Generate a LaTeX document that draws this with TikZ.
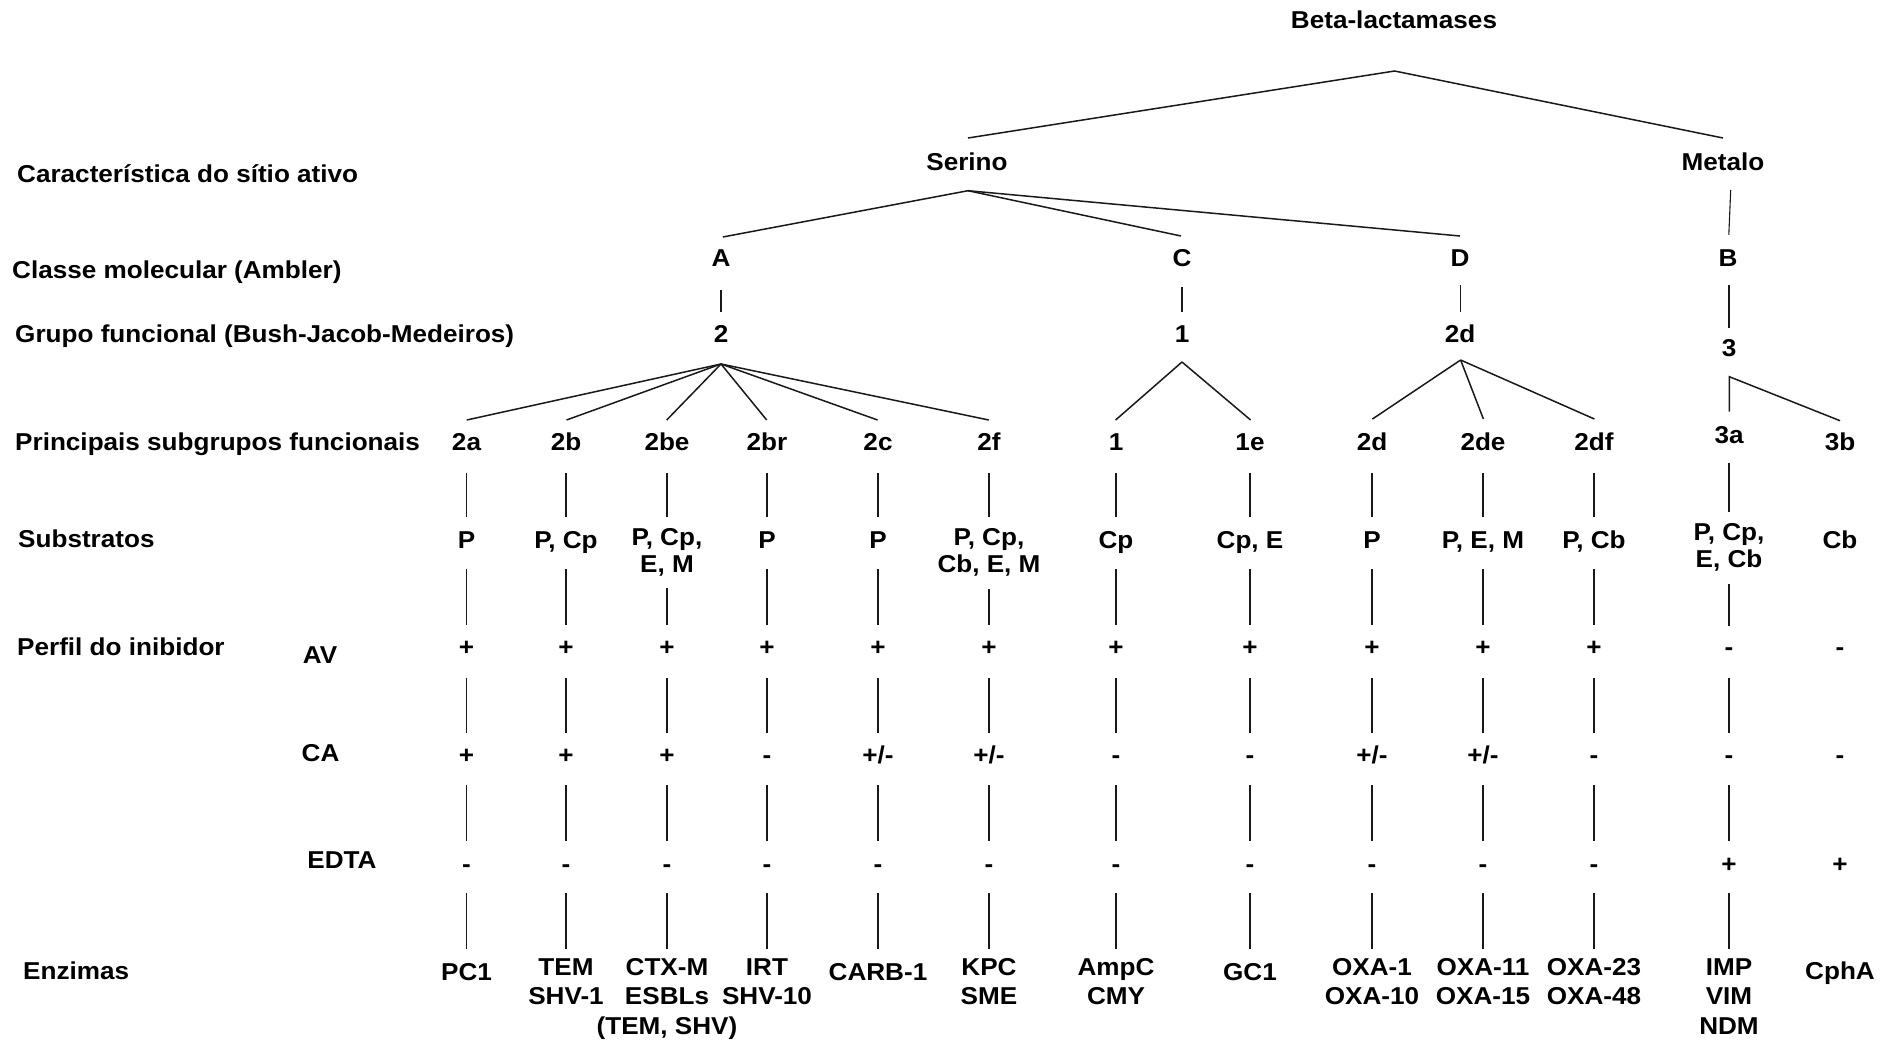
\documentclass[tikz,border=0pt]{standalone}
\usepackage{fontspec}
\setmainfont[FakeStretch=1.07]{Liberation Sans}
\newcommand\ml[1]{\begin{tabular}[t]{@{}c@{}}#1\end{tabular}}
\begin{document}
\begin{tikzpicture}[x=1pt,y=-1pt,
  every node/.style={font=\fontsize{24.4}{27}\selectfont\bfseries, inner sep=0pt, anchor=base},
  lab/.style={anchor=base west},
  enz/.style={font=\fontsize{24.4}{29.5}\selectfont\bfseries},
  br/.style={line width=1.5pt, draw=black!90},
  vl/.style={line width=1.1pt, draw=black!90}]
\useasboundingbox (0,0) rectangle (1894,1042);

% ---- row labels
\node[lab] (l1) at (17,182) {Característica do sítio ativo};
\node[lab] (l2) at (12,278.5) {Classe molecular (Ambler)};
\node[lab] (l3) at (15,342) {Grupo funcional (Bush-Jacob-Medeiros)};
\node[lab] (l4) at (15,450) {Principais subgrupos funcionais};
\node[lab] (l5) at (18,547.5) {Substratos};
\node[lab] (l6) at (17,655) {Perfil do inibidor};
\node (lav) at (320,663) {AV};
\node (lca) at (320.6,761) {CA};
\node (ledta) at (342,868) {EDTA};
\node[lab] (l7) at (23,979) {Enzimas};

% ---- upper tree
\node (root) at (1394,28) {Beta-lactamases};
\node (serino) at (967,170.5) {Serino};
\node (metalo) at (1723,170.5) {Metalo};
\node (A) at (721,266.5) {A};
\node (C) at (1182,266.5) {C};
\node (D) at (1460,266.5) {D};
\node (B) at (1728,266.5) {B};
\node (n2) at (721,342.5) {2};
\node (n1) at (1182,342.5) {1};
\node (n2d) at (1460,342.5) {2d};
\node (n3) at (1729,356.5) {3};

\coordinate (rootb) at (1394.6,71);
\coordinate (serinot) at (968,138);
\coordinate (metalot) at (1723,138);
\draw[br] (serinot) -- (rootb) -- (metalot);
\coordinate (serinob) at (968,190.7);
\coordinate (At) at (722.8,237);
\coordinate (Ct) at (1181,236);
\coordinate (Dt) at (1460,236);
\draw[br] (serinob) -- (At);
\draw[br] (serinob) -- (Ct);
\draw[br] (serinob) -- (Dt);
\coordinate (metalob) at (1730.7,190);
\coordinate (Bt) at (1728.8,235);
\draw[vl] (metalob) -- (Bt);
\coordinate (Ab) at (721,290);   \coordinate (n2t) at (721,312);
\coordinate (Cb) at (1182,287);  \coordinate (n1t) at (1182,312);
\coordinate (Db) at (1460.5,285); \coordinate (n2dt) at (1460.5,312);
\coordinate (Bb) at (1729,285);  \coordinate (n3t) at (1729,328);
\draw[vl] (Ab) -- (n2t);
\draw[vl] (Cb) -- (n1t);
\draw[vl] (Db) -- (n2dt);
\draw[vl] (Bb) -- (n3t);

% ---- subgroups
\node (g2a) at (466.5,450) {2a};
\node (g2b) at (566,450) {2b};
\node (g2be) at (667,450) {2be};
\node (g2br) at (767,450) {2br};
\node (g2c) at (878,450) {2c};
\node (g2f) at (989,450) {2f};
\node (g1) at (1116,450) {1};
\node (g1e) at (1250,450) {1e};
\node (g2d) at (1372,450) {2d};
\node (g2de) at (1483,450) {2de};
\node (g2df) at (1594,450) {2df};
\node (g3a) at (1729,443.5) {3a};
\node (g3b) at (1840,450) {3b};

% fans
\coordinate (n2b) at (721,364);
\foreach \c/\x in {a/466.7, b/566.5, be/666.7, br/766.7, c/877.6, f/988.8}
  {\coordinate (f\c) at (\x,420); \draw[br] (n2b) -- (f\c);}
\coordinate (n1b) at (1182,362);
\foreach \c/\x in {one/1115.6, oe/1250.6}
  {\coordinate (f\c) at (\x,420); \draw[br] (n1b) -- (f\c);}
\coordinate (n2db) at (1460.6,360);
\foreach \c/\x in {d/1372.4, de/1483.4, df/1594.4}
  {\coordinate (f\c) at (\x,419); \draw[br] (n2db) -- (f\c);}
\coordinate (n3b) at (1729.3,376.7);
\coordinate (fta) at (1729.3,411.7);
\coordinate (ftb) at (1840,420.7);
\draw[br] (fta) -- (n3b) -- (ftb);

% ---- substrates
\node (s2a) at (466.5,548.5) {P};
\node (s2b) at (566,548.5) {P, Cp};
\node (s2be) at (667,545) {\ml{P, Cp,\\E, M}};
\node (s2br) at (767,548.5) {P};
\node (s2c) at (878,548.5) {P};
\node (s2f) at (989,545) {\ml{P, Cp,\\Cb, E, M}};
\node (s1) at (1116,548.5) {Cp};
\node (s1e) at (1250,548.5) {Cp, E};
\node (s2d) at (1372,548.5) {P};
\node (s2de) at (1483,548.5) {P, E, M};
\node (s2df) at (1594,548.5) {P, Cb};
\node (s3a) at (1729,540) {\ml{P, Cp,\\E, Cb}};
\node (s3b) at (1840,548.5) {Cb};

% ---- inhibitor profile
\foreach \c/\x/\av/\ca/\ed in {a/466.5/+/+/-, b/566/+/+/-, be/667/+/+/-, br/767/+/-/-,
   c/878/+/{+/-}/-, f/989/+/{+/-}/-, one/1116/+/-/-, oe/1250/+/-/-, d/1372/+/{+/-}/-,
   de/1483/+/{+/-}/-, df/1594/+/-/-, ta/1729/-/-/+, tb/1840/-/-/+}
{
  \node (av\c) at (\x,655) {\av};
  \node (ca\c) at (\x,763.5) {\ca};
  \node (ed\c) at (\x,872) {\ed};
}

% ---- enzymes
\node[enz] (e2a) at (466.5,980) {PC1};
\node[enz] (e2b) at (566,975) {\ml{TEM\\SHV-1}};
\node[enz] (e2be) at (667,975) {\ml{CTX-M\\ESBLs\\(TEM, SHV)}};
\node[enz] (e2br) at (767,975) {\ml{IRT\\SHV-10}};
\node[enz] (e2c) at (878,980) {CARB-1};
\node[enz] (e2f) at (989,975) {\ml{KPC\\SME}};
\node[enz] (e1) at (1116,975) {\ml{AmpC\\CMY}};
\node[enz] (e1e) at (1250,980) {GC1};
\node[enz] (e2d) at (1372,975) {\ml{OXA-1\\OXA-10}};
\node[enz] (e2de) at (1483,975) {\ml{OXA-11\\OXA-15}};
\node[enz] (e2df) at (1594,975) {\ml{OXA-23\\OXA-48}};
\node[enz] (e3a) at (1729,975) {\ml{IMP\\VIM\\NDM}};
\node[enz] (e3b) at (1840,979) {CphA};

% ---- column connectors
\foreach \c/\x/\ya/\yb/\yc/\yd in {a/466.5/472.7/516.7/569/625, b/566/472.7/516.7/569/625,
   be/667/472.7/516.7/588/625, br/767/472.7/516.7/569/625, c/878/472.7/516.7/569/625,
   f/989/472.7/516.7/589/625, one/1116/472.7/516.7/569/625, oe/1250/472.7/516.7/569/625,
   d/1372/472.7/516.7/569/625, de/1483/472.7/516.7/569/625, df/1594/472.7/516.7/569/625,
   ta/1729/463/511.7/584/626}
{
  \coordinate (\c-1a) at (\x,\ya);  \coordinate (\c-1b) at (\x,\yb);
  \coordinate (\c-2a) at (\x,\yc);  \coordinate (\c-2b) at (\x,\yd);
  \coordinate (\c-3a) at (\x,677.7); \coordinate (\c-3b) at (\x,732.7);
  \coordinate (\c-4a) at (\x,785);  \coordinate (\c-4b) at (\x,840.7);
  \coordinate (\c-5a) at (\x,893);  \coordinate (\c-5b) at (\x,949);
  \draw[vl] (\c-1a) -- (\c-1b);
  \draw[vl] (\c-2a) -- (\c-2b);
  \draw[vl] (\c-3a) -- (\c-3b);
  \draw[vl] (\c-4a) -- (\c-4b);
  \draw[vl] (\c-5a) -- (\c-5b);
}
\end{tikzpicture}
\end{document}
